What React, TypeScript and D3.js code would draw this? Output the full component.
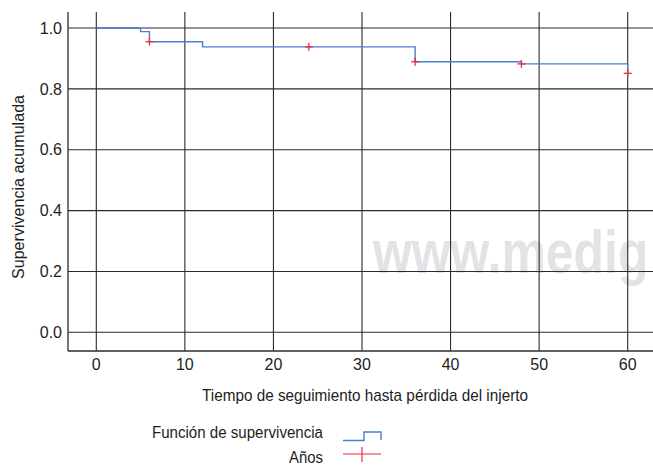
import React from "react";
import * as d3 from "d3";

// Kaplan-Meier step function: time (months) and cumulative survival
const stepTimes = [0, 5, 6, 12, 36, 48, 60];
const stepSurvival = [1.0, 0.988, 0.955, 0.938, 0.889, 0.882, 0.851];

// Yearly markers ("Años")
const markTimes = [6, 24, 36, 48, 60];
const markSurvival = [0.955, 0.938, 0.889, 0.882, 0.851];

const xTicks = [0, 10, 20, 30, 40, 50, 60];
const yTicks = [0.0, 0.2, 0.4, 0.6, 0.8, 1.0];

const W = 653;
const H = 467;
const plotLeft = 68;
const plotRight = 653;
const plotTop = 12;
const plotBottom = 351;

const FONT = "'Liberation Sans', Arial, Helvetica, sans-serif";
const GRID = "#2b2b2b";
const INK = "#1e1e1e";
const BLUE = "#4a7ed4";
const RED = "#e8303c";

export default function App() {
  const x = d3.scaleLinear().domain([0, 60]).range([96.3, 627.7]);
  const y = d3.scaleLinear().domain([0, 1]).range([332.3, 28]);

  const n = stepSurvival.length;
  const pts: [number, number][] = stepTimes.slice(0, -1).map((t, i) => [t, stepSurvival[i]]);
  // hold the last level to the end of follow-up, then drop
  pts.push([stepTimes[n - 1], stepSurvival[n - 2]]);
  pts.push([stepTimes[n - 1], stepSurvival[n - 1]]);
  const line = d3
    .line<[number, number]>()
    .x((d) => x(d[0]))
    .y((d) => y(d[1]))
    .curve(d3.curveStepAfter);
  const pathD = line(pts);

  const cross = (cx: number, cy: number, key: string, s = 4) => (
    <g key={key} stroke={RED} strokeWidth={1.3}>
      <line x1={cx - s} x2={cx + s} y1={cy} y2={cy} />
      <line x1={cx} x2={cx} y1={cy - s} y2={cy + s} />
    </g>
  );

  return (
    <div style={{ position: "absolute", left: 0, top: 0 }}>
      <svg width={W} height={H} style={{ display: "block", background: "#fff" }}>
        {/* watermark, horizontally condensed */}
        <text
          transform="translate(373,273) scale(0.805,1)"
          fontFamily={FONT}
          fontWeight="bold"
          fontSize={62}
          fill="#e2e3e6"
        >
          www.medig
        </text>

        {/* grid */}
        {yTicks.map((t) => (
          <line key={"gy" + t} x1={plotLeft} x2={plotRight} y1={y(t)} y2={y(t)} stroke={GRID} strokeWidth={1.1} />
        ))}
        {xTicks.map((t) => (
          <line key={"gx" + t} x1={x(t)} x2={x(t)} y1={plotTop} y2={plotBottom} stroke={GRID} strokeWidth={1.1} />
        ))}
        {/* axes */}
        <line x1={plotLeft} x2={plotLeft} y1={plotTop} y2={plotBottom} stroke={GRID} strokeWidth={1.3} />
        <line x1={plotLeft} x2={plotRight} y1={plotBottom} y2={plotBottom} stroke={GRID} strokeWidth={1.3} />

        {/* tick labels */}
        {yTicks.map((t) => (
          <text key={"ly" + t} x={62} y={y(t)} dy="0.36em" textAnchor="end" fontFamily={FONT} fontSize={16} fill={INK}>
            {t.toFixed(1)}
          </text>
        ))}
        {xTicks.map((t) => (
          <text key={"lx" + t} x={x(t)} y={369.5} textAnchor="middle" fontFamily={FONT} fontSize={16} fill={INK}>
            {t}
          </text>
        ))}

        {/* axis titles */}
        <text
          transform="translate(23.5,187) rotate(-90)"
          textAnchor="middle"
          fontFamily={FONT}
          fontSize={16}
          fill={INK}
          textLength={184}
          lengthAdjust="spacingAndGlyphs"
        >
          Supervivencia acumulada
        </text>
        <text
          x={365}
          y={400.5}
          textAnchor="middle"
          fontFamily={FONT}
          fontSize={17}
          fill={INK}
          textLength={326}
          lengthAdjust="spacingAndGlyphs"
        >
          Tiempo de seguimiento hasta pérdida del injerto
        </text>

        {/* survival curve */}
        <path d={pathD ?? ""} fill="none" stroke={BLUE} strokeWidth={1.4} />
        {markTimes.map((t, i) => cross(x(t), y(markSurvival[i]), "m" + i))}

        {/* legend */}
        <text
          x={323}
          y={438.3}
          textAnchor="end"
          fontFamily={FONT}
          fontSize={16}
          fill={INK}
          textLength={171}
          lengthAdjust="spacingAndGlyphs"
        >
          Función de supervivencia
        </text>
        <path d="M343,440.5 H364 V432 H381 V440" fill="none" stroke={BLUE} strokeWidth={1.4} />
        <text
          x={323}
          y={463}
          textAnchor="end"
          fontFamily={FONT}
          fontSize={16}
          fill={INK}
          textLength={34}
          lengthAdjust="spacingAndGlyphs"
        >
          Años
        </text>
        <g stroke={RED} strokeWidth={1.2}>
          <line x1={343} x2={381} y1={454} y2={454} />
          <line x1={362} x2={362} y1={447} y2={462} />
        </g>
      </svg>
    </div>
  );
}
